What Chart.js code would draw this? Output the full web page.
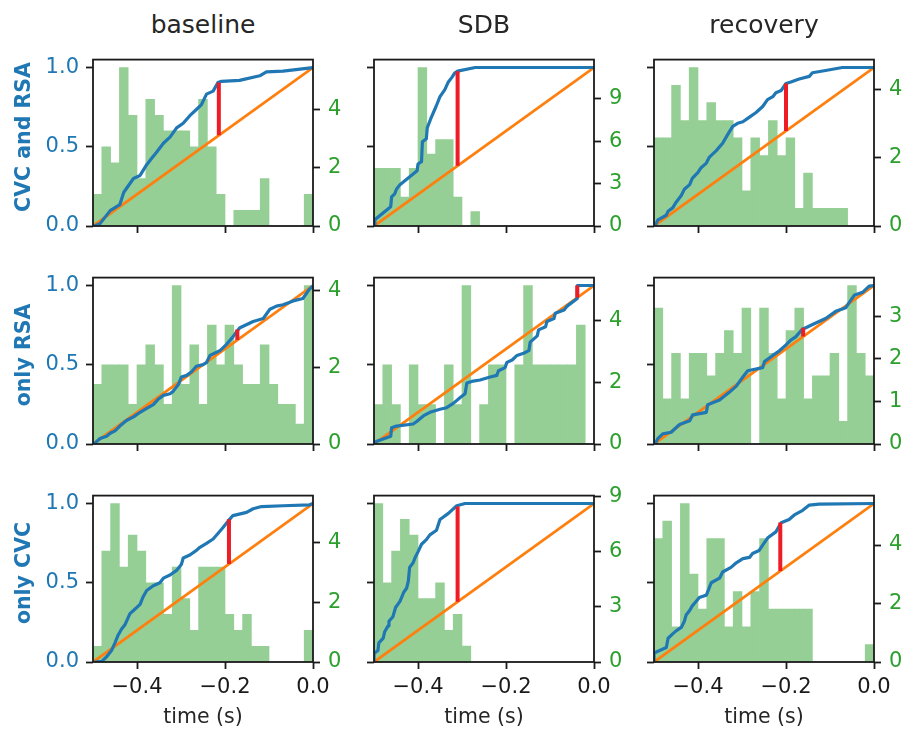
<!DOCTYPE html>
<html>
<head>
<meta charset="utf-8">
<script src="https://cdn.jsdelivr.net/npm/chart.js@4"></script>
<style>
  html, body { margin: 0; padding: 0; background: #fff; overflow: hidden; }
  #fig { position: relative; width: 902px; height: 730px; font-family: 'DejaVu Sans', sans-serif; }
  #fig canvas { position: absolute; }
  .txt { position: absolute; white-space: nowrap; line-height: 1; }
  .col-title { font-size: 25px; color: #262626; transform: translateX(-50%); }
  .row-title { font-size: 20.5px; font-weight: bold; color: #1f77b4; transform: translate(-50%, -50%) rotate(-90deg); }
  .xlab { font-size: 20.5px; color: #262626; transform: translateX(-50%); }
</style>
</head>
<body>
<div id="fig"></div>
<script>
const conditions = ['baseline', 'SDB', 'recovery'];
const groups = ['CVC and RSA', 'only RSA', 'only CVC'];
const binCenters = [-0.49, -0.47, -0.45, -0.43, -0.41, -0.39, -0.37, -0.35, -0.33, -0.31, -0.29, -0.27, -0.25,
  -0.23, -0.21, -0.19, -0.17, -0.15, -0.13, -0.11, -0.09, -0.07, -0.05, -0.03, -0.01];
const timeTicks = [-0.4, -0.2, 0.0];
const cdfTicks = [0, 0.5, 1.0];
const uniformCdf = [[-0.5, 0], [0, 1]];

// histogram densities (right axis), one value per bin
const histBothBase = [1.09, 2.72, 2.17, 5.45, 3.81, 1.63, 4.36, 3.81, 3.27, 3.27, 3.27, 2.72, 4.36, 2.72, 1.09, 0, 0.54, 0.54, 0.54, 1.63, 0, 0, 0, 0, 1.09];
const histBothSdb = [4.08, 4.08, 4.08, 2.04, 4.08, 11.22, 5.10, 6.12, 6.12, 2.04, 0, 1.02, 0, 0, 0, 0, 0, 0, 0, 0, 0, 0, 0, 0, 0];
const histBothRec = [2.58, 2.58, 4.12, 3.09, 4.64, 3.09, 3.61, 3.09, 3.09, 2.58, 1.03, 2.58, 2.06, 3.09, 2.06, 2.58, 0.52, 1.55, 0.52, 0.52, 0.52, 0.52, 0, 0, 0];
const histRsaBase = [1.55, 2.06, 2.06, 2.06, 1.03, 2.06, 2.58, 2.06, 1.03, 4.12, 1.55, 2.58, 1.03, 3.09, 2.06, 3.09, 2.06, 1.55, 1.55, 2.58, 1.55, 1.03, 1.03, 0.52, 4.12];
const histRsaSdb = [1.28, 2.56, 1.28, 0, 2.56, 1.28, 1.28, 0, 2.56, 1.28, 5.13, 0, 1.28, 2.56, 2.56, 0, 2.56, 5.13, 2.56, 2.56, 2.56, 2.56, 2.56, 3.85, 0];
const histRsaRec = [3.19, 1.06, 2.13, 1.06, 2.13, 2.13, 1.60, 2.13, 2.66, 2.13, 3.19, 0, 3.19, 2.13, 1.06, 2.66, 3.19, 1.06, 1.60, 1.60, 2.13, 0.53, 3.72, 2.13, 1.60];
const histCvcBase = [0.53, 3.72, 5.32, 3.19, 4.26, 3.72, 2.66, 2.66, 1.60, 3.19, 2.13, 1.06, 3.19, 3.19, 3.19, 1.60, 1.06, 1.60, 0.53, 0.53, 0, 0, 0, 0, 1.06];
const histCvcSdb = [8.62, 4.31, 6.03, 7.76, 6.90, 3.45, 3.45, 4.31, 1.72, 2.59, 0.86, 0, 0, 0, 0, 0, 0, 0, 0, 0, 0, 0, 0, 0, 0];
const histCvcRec = [4.22, 4.82, 1.20, 5.42, 3.01, 1.81, 4.22, 4.22, 1.20, 2.41, 1.20, 2.41, 4.22, 1.81, 1.81, 1.81, 1.81, 1.81, 0, 0, 0, 0, 0, 0, 0.60];

// right axis tick values
const densTicksBothBase = [0, 2, 4];
const densTicksBothSdb = [0, 3, 6, 9];
const densTicksBothRec = [0, 2, 4];
const densTicksRsaBase = [0, 2, 4];
const densTicksRsaSdb = [0, 2, 4];
const densTicksRsaRec = [0, 1, 2, 3];
const densTicksCvcBase = [0, 2, 4];
const densTicksCvcSdb = [0, 3, 6, 9];
const densTicksCvcRec = [0, 2, 4];

const ecdfBothBase = [[-0.497, 0], [-0.484, 0.015], [-0.461, 0.097], [-0.439, 0.135], [-0.430, 0.213], [-0.408, 0.300], [-0.393, 0.319], [-0.378, 0.387], [-0.367, 0.426], [-0.356, 0.464], [-0.340, 0.522], [-0.325, 0.561], [-0.310, 0.619], [-0.295, 0.648], [-0.280, 0.696], [-0.265, 0.735], [-0.254, 0.764], [-0.242, 0.832], [-0.227, 0.851], [-0.216, 0.905], [-0.208, 0.913], [-0.167, 0.919], [-0.121, 0.948], [-0.106, 0.973], [-0.068, 0.977], [0, 1.0]];
const ecdfBothSdb = [[-0.5, 0.01], [-0.498, 0.04], [-0.462, 0.122], [-0.460, 0.184], [-0.453, 0.203], [-0.449, 0.232], [-0.441, 0.261], [-0.402, 0.348], [-0.400, 0.391], [-0.392, 0.406], [-0.390, 0.532], [-0.381, 0.551], [-0.379, 0.619], [-0.371, 0.677], [-0.359, 0.754], [-0.350, 0.816], [-0.339, 0.861], [-0.331, 0.909], [-0.323, 0.938], [-0.316, 0.967], [-0.310, 0.977], [-0.270, 1.0], [0, 1.0]];
const ecdfBothRec = [[-0.498, 0], [-0.491, 0.039], [-0.472, 0.068], [-0.468, 0.093], [-0.457, 0.116], [-0.451, 0.145], [-0.438, 0.193], [-0.431, 0.232], [-0.419, 0.261], [-0.413, 0.300], [-0.400, 0.338], [-0.393, 0.368], [-0.381, 0.397], [-0.374, 0.435], [-0.359, 0.474], [-0.344, 0.522], [-0.332, 0.580], [-0.321, 0.629], [-0.310, 0.648], [-0.298, 0.658], [-0.283, 0.687], [-0.268, 0.716], [-0.253, 0.754], [-0.242, 0.797], [-0.230, 0.816], [-0.223, 0.841], [-0.211, 0.855], [-0.200, 0.899], [-0.189, 0.909], [-0.170, 0.928], [-0.147, 0.944], [-0.140, 0.967], [-0.110, 0.981], [-0.072, 1.0], [0, 1.0]];
const ecdfRsaBase = [[-0.498, 0], [-0.484, 0.035], [-0.469, 0.049], [-0.461, 0.068], [-0.450, 0.083], [-0.439, 0.113], [-0.424, 0.148], [-0.408, 0.171], [-0.393, 0.200], [-0.378, 0.225], [-0.363, 0.249], [-0.352, 0.282], [-0.340, 0.307], [-0.325, 0.317], [-0.318, 0.332], [-0.306, 0.375], [-0.299, 0.423], [-0.287, 0.433], [-0.276, 0.456], [-0.265, 0.491], [-0.250, 0.501], [-0.242, 0.514], [-0.234, 0.559], [-0.212, 0.588], [-0.197, 0.627], [-0.182, 0.676], [-0.172, 0.715], [-0.166, 0.734], [-0.136, 0.773], [-0.113, 0.792], [-0.098, 0.850], [-0.083, 0.870], [-0.068, 0.879], [-0.045, 0.903], [-0.023, 0.918], [-0.008, 0.977], [0, 0.997]];
const ecdfRsaSdb = [[-0.498, 0], [-0.495, 0.016], [-0.462, 0.049], [-0.460, 0.103], [-0.449, 0.113], [-0.411, 0.126], [-0.403, 0.142], [-0.388, 0.177], [-0.373, 0.200], [-0.350, 0.219], [-0.335, 0.229], [-0.319, 0.258], [-0.304, 0.293], [-0.293, 0.317], [-0.289, 0.385], [-0.278, 0.395], [-0.259, 0.404], [-0.236, 0.423], [-0.221, 0.433], [-0.217, 0.462], [-0.202, 0.482], [-0.198, 0.515], [-0.186, 0.530], [-0.175, 0.559], [-0.160, 0.573], [-0.148, 0.589], [-0.145, 0.643], [-0.129, 0.682], [-0.126, 0.720], [-0.110, 0.740], [-0.107, 0.773], [-0.091, 0.792], [-0.088, 0.825], [-0.068, 0.845], [-0.061, 0.870], [-0.038, 0.918], [-0.038, 1.0], [0, 1.0]];
const ecdfRsaRec = [[-0.498, 0], [-0.491, 0.035], [-0.480, 0.064], [-0.461, 0.074], [-0.442, 0.123], [-0.419, 0.146], [-0.412, 0.184], [-0.381, 0.200], [-0.378, 0.248], [-0.351, 0.277], [-0.329, 0.326], [-0.313, 0.365], [-0.298, 0.423], [-0.287, 0.462], [-0.253, 0.482], [-0.249, 0.520], [-0.230, 0.559], [-0.215, 0.588], [-0.200, 0.625], [-0.189, 0.656], [-0.178, 0.676], [-0.163, 0.724], [-0.155, 0.734], [-0.136, 0.759], [-0.110, 0.792], [-0.087, 0.837], [-0.064, 0.860], [-0.057, 0.890], [-0.045, 0.938], [-0.026, 0.957], [-0.011, 0.996], [0, 1.0]];
const ecdfCvcBase = [[-0.497, 0], [-0.480, 0.004], [-0.469, 0.033], [-0.458, 0.072], [-0.450, 0.121], [-0.443, 0.169], [-0.435, 0.208], [-0.427, 0.237], [-0.416, 0.305], [-0.408, 0.325], [-0.393, 0.364], [-0.386, 0.412], [-0.378, 0.451], [-0.363, 0.481], [-0.348, 0.500], [-0.340, 0.529], [-0.325, 0.549], [-0.310, 0.578], [-0.299, 0.617], [-0.295, 0.656], [-0.280, 0.675], [-0.265, 0.704], [-0.257, 0.724], [-0.242, 0.749], [-0.227, 0.776], [-0.216, 0.811], [-0.204, 0.850], [-0.193, 0.889], [-0.182, 0.924], [-0.151, 0.944], [-0.136, 0.967], [-0.117, 0.981], [-0.068, 0.986], [-0.008, 0.992], [0, 1.0]];
const ecdfCvcSdb = [[-0.5, 0], [-0.5, 0.053], [-0.491, 0.072], [-0.489, 0.121], [-0.479, 0.150], [-0.476, 0.189], [-0.468, 0.228], [-0.466, 0.257], [-0.457, 0.286], [-0.451, 0.344], [-0.441, 0.383], [-0.432, 0.442], [-0.426, 0.465], [-0.422, 0.510], [-0.419, 0.597], [-0.411, 0.626], [-0.407, 0.656], [-0.400, 0.695], [-0.392, 0.743], [-0.381, 0.772], [-0.373, 0.802], [-0.358, 0.831], [-0.350, 0.899], [-0.331, 0.938], [-0.312, 0.986], [-0.293, 1.0], [0, 1.0]];
const ecdfCvcRec = [[-0.5, 0], [-0.5, 0.056], [-0.472, 0.091], [-0.468, 0.150], [-0.457, 0.179], [-0.449, 0.198], [-0.438, 0.218], [-0.431, 0.257], [-0.427, 0.296], [-0.419, 0.325], [-0.413, 0.354], [-0.404, 0.383], [-0.397, 0.407], [-0.381, 0.422], [-0.374, 0.471], [-0.370, 0.500], [-0.351, 0.529], [-0.344, 0.568], [-0.325, 0.597], [-0.313, 0.626], [-0.298, 0.652], [-0.283, 0.660], [-0.276, 0.685], [-0.261, 0.704], [-0.253, 0.737], [-0.242, 0.782], [-0.223, 0.821], [-0.211, 0.879], [-0.193, 0.899], [-0.181, 0.928], [-0.162, 0.957], [-0.147, 0.990], [-0.125, 0.996], [0, 1.0]];

// largest gap between ecdf and uniform: [time, uniform cdf, ecdf]
const gapBothBase = [-0.214, 0.572, 0.905];
const gapBothSdb = [-0.310, 0.380, 0.977];
const gapBothRec = [-0.200, 0.600, 0.899];
const gapRsaBase = [-0.172, 0.656, 0.722];
const gapRsaSdb = [-0.038, 0.924, 1.0];
const gapRsaRec = [-0.161, 0.678, 0.733];
const gapCvcBase = [-0.191, 0.618, 0.900];
const gapCvcSdb = [-0.310, 0.380, 0.981];
const gapCvcRec = [-0.213, 0.574, 0.880];

const panels = [
  [histBothBase, ecdfBothBase, gapBothBase, densTicksBothBase],
  [histBothSdb, ecdfBothSdb, gapBothSdb, densTicksBothSdb],
  [histBothRec, ecdfBothRec, gapBothRec, densTicksBothRec],
  [histRsaBase, ecdfRsaBase, gapRsaBase, densTicksRsaBase],
  [histRsaSdb, ecdfRsaSdb, gapRsaSdb, densTicksRsaSdb],
  [histRsaRec, ecdfRsaRec, gapRsaRec, densTicksRsaRec],
  [histCvcBase, ecdfCvcBase, gapCvcBase, densTicksCvcBase],
  [histCvcSdb, ecdfCvcSdb, gapCvcSdb, densTicksCvcSdb],
  [histCvcRec, ecdfCvcRec, gapCvcRec, densTicksCvcRec]
];

// plot area placement on the page
const colLeft = [93, 374, 654];
const rowTop = [47, 265, 483];
const plotW = 220, plotH = 179;
const padL = 62, padR = 40, padT = 8, padB = 42;

const ink = '#1a1a1a';
Chart.defaults.font.family = "'DejaVu Sans', sans-serif";
Chart.defaults.font.size = 21;

const fig = document.getElementById('fig');

const framePlugin = {
  id: 'frame',
  afterDatasetsDraw(chart) {
    const { ctx, chartArea: a } = chart;
    ctx.save();
    ctx.strokeStyle = ink;
    ctx.lineWidth = 1.8;
    ctx.strokeRect(a.left, a.top, a.right - a.left, a.bottom - a.top);
    ctx.restore();
  }
};

const tickGrid = { drawOnChartArea: false, drawTicks: true, tickLength: 7, tickWidth: 1.8, tickColor: ink, offset: false };
const fixTicks = vals => s => { s.ticks = vals.map(v => ({ value: v })); };
const fmtTime = v => (v < 0 ? '\u2212' : '') + Math.abs(v).toFixed(1);

function addText(cls, text, x, y) {
  const d = document.createElement('div');
  d.className = 'txt ' + cls;
  d.textContent = text;
  d.style.left = x + 'px';
  d.style.top = y + 'px';
  fig.appendChild(d);
}

panels.forEach((p, k) => {
  const r = Math.floor(k / 3), c = k % 3;
  const [hist, ecdf, gap, densTicks] = p;

  const cv = document.createElement('canvas');
  cv.width = plotW + padL + padR;
  cv.height = plotH + padT + padB;
  cv.style.left = (colLeft[c] - padL) + 'px';
  cv.style.top = (rowTop[r] - padT) + 'px';
  fig.appendChild(cv);

  const hmax = Math.max(...hist);

  new Chart(cv, {
    type: 'bar',
    data: {
      datasets: [
        {
          type: 'line', data: [{ x: gap[0], y: gap[1] }, { x: gap[0], y: gap[2] }],
          borderColor: '#ee1c25', borderWidth: 4, pointRadius: 0, yAxisID: 'y', order: 0
        },
        {
          type: 'line', data: ecdf.map(([x, y]) => ({ x, y })),
          borderColor: '#1f77b4', borderWidth: 3.2, pointRadius: 0, tension: 0,
          borderJoinStyle: 'round', yAxisID: 'y', order: 1
        },
        {
          type: 'line', data: uniformCdf.map(([x, y]) => ({ x, y })),
          borderColor: '#ff7f0e', borderWidth: 2.8, pointRadius: 0, yAxisID: 'y', order: 2
        },
        {
          type: 'bar', data: binCenters.map((x, i) => ({ x, y: hist[i] })),
          backgroundColor: '#95cf95', borderWidth: 0,
          barPercentage: 1, categoryPercentage: 1, yAxisID: 'y2', order: 3
        }
      ]
    },
    options: {
      responsive: false,
      animation: false,
      events: [],
      layout: { padding: { top: padT, left: 0, right: 0, bottom: 0 } },
      plugins: { legend: { display: false }, tooltip: { enabled: false } },
      scales: {
        x: {
          type: 'linear', min: -0.5, max: 0, offset: false,
          afterBuildTicks: fixTicks(timeTicks),
          afterFit: s => { s.height = padB; },
          grid: tickGrid,
          border: { display: false },
          ticks: { display: r === 2, color: ink, padding: 6, maxRotation: 0, autoSkip: false, callback: fmtTime }
        },
        y: {
          position: 'left', min: 0, max: 1.05,
          afterBuildTicks: fixTicks(cdfTicks),
          afterFit: s => { s.width = padL; },
          grid: tickGrid,
          border: { display: false },
          ticks: { display: c === 0, color: '#1f77b4', padding: 7, callback: v => v.toFixed(1) }
        },
        y2: {
          position: 'right', min: 0, max: hmax * 1.05,
          afterBuildTicks: fixTicks(densTicks),
          afterFit: s => { s.width = padR; },
          grid: tickGrid,
          border: { display: false },
          ticks: { color: '#2ca02c', padding: 8, callback: v => String(v) }
        }
      }
    },
    plugins: [framePlugin]
  });
});

conditions.forEach((t, c) => addText('col-title', t, colLeft[c] + plotW / 2, 12));
groups.forEach((g, r) => addText('row-title', g, 22.5, rowTop[r] + plotH / 2));
conditions.forEach((t, c) => addText('xlab', 'time (s)', colLeft[c] + plotW / 2, 706));
</script>
</body>
</html>
